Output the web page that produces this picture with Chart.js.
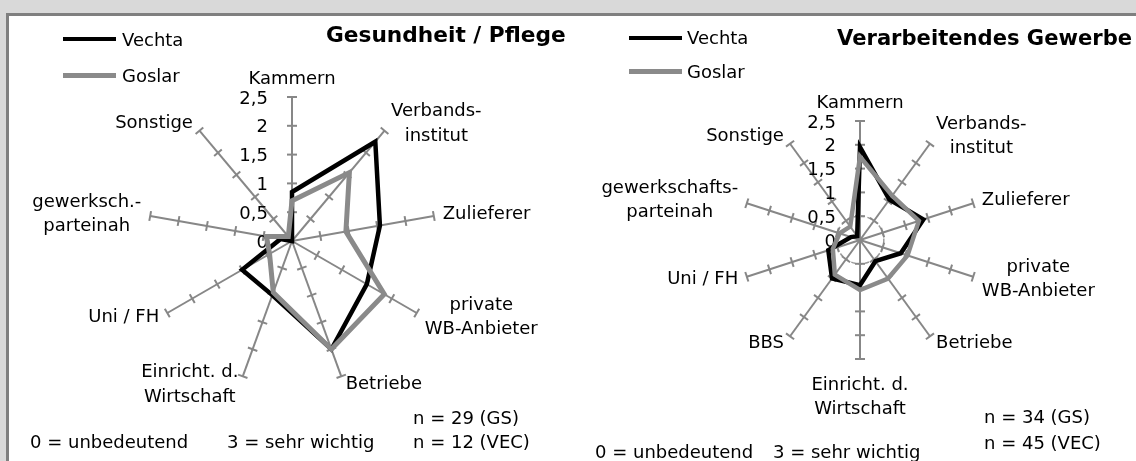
<!DOCTYPE html>
<html><head><meta charset="utf-8">
<script src="https://cdn.jsdelivr.net/npm/chart.js@4.4.1/dist/chart.umd.min.js"></script>
<style>
body{margin:0;width:1136px;height:461px;overflow:hidden;background:#d9d9d9;font-family:"DejaVu Sans",Verdana,sans-serif;position:relative;}
#frame{position:absolute;left:6px;top:13px;width:1140px;height:460px;border:3px solid #7f7f7f;background:#fff;}
canvas{position:absolute;top:0}
.t{position:absolute;font-size:18px;line-height:20px;white-space:nowrap;color:#000}
.title{position:absolute;font-size:21.7px;line-height:24px;font-weight:bold;white-space:nowrap;color:#000}
.sw{position:absolute;width:53px}
</style></head><body>
<div id="frame"></div>
<canvas id="c1" width="568" height="461" style="left:0"></canvas>
<canvas id="c2" width="568" height="461" style="left:568px"></canvas>

<div class="sw" style="left:63px;top:37px;height:4px;background:#000"></div>
<div class="t" style="left:122px;top:30px">Vechta</div>
<div class="sw" style="left:63px;top:73px;height:5px;background:#8a8a8a"></div>
<div class="t" style="left:122px;top:66px">Goslar</div>
<div class="title" style="left:326px;top:23px">Gesundheit / Pflege</div>
<div class="t" style="left:30px;top:432px">0 = unbedeutend</div>
<div class="t" style="left:227px;top:432px">3 = sehr wichtig</div>
<div class="t" style="left:413px;top:408px">n = 29 (GS)</div>
<div class="t" style="left:413px;top:432px">n = 12 (VEC)</div>

<div class="sw" style="left:629px;top:36px;height:4px;background:#000"></div>
<div class="t" style="left:687px;top:28px">Vechta</div>
<div class="sw" style="left:629px;top:69px;height:5px;background:#8a8a8a"></div>
<div class="t" style="left:687px;top:62px">Goslar</div>
<div class="title" style="left:837px;top:26px;font-size:21.1px">Verarbeitendes Gewerbe</div>
<div class="t" style="left:595px;top:442px">0 = unbedeutend</div>
<div class="t" style="left:773px;top:442px">3 = sehr wichtig</div>
<div class="t" style="left:984px;top:407px">n = 34 (GS)</div>
<div class="t" style="left:984px;top:433px">n = 45 (VEC)</div>

<script>
// ---- data ----
const leftLabels = [['Kammern'], ['Verbands-','institut'], ['Zulieferer'], ['private','WB-Anbieter'], ['Betriebe'], ['Einricht. d.','Wirtschaft'], ['Uni / FH'], ['gewerksch.-','parteinah'], ['Sonstige']];
const leftVechta = [0.85, 2.25, 1.55, 1.5, 2.0, 1.0, 1.0, 0.2, 0.0];
const leftGoslar = [0.7, 1.55, 0.95, 1.85, 2.0, 0.95, 0.45, 0.45, 0.1];

const rightLabels = [['Kammern'], ['Verbands-','institut'], ['Zulieferer'], ['private','WB-Anbieter'], ['Betriebe'], ['Einricht. d.','Wirtschaft'], ['BBS'], ['Uni / FH'], ['gewerkschafts-','parteinah'], ['Sonstige']];
const rightVechta = [1.95, 1.05, 1.4, 0.9, 0.55, 0.95, 1.0, 0.7, 0.2, 0.1];
const rightGoslar = [1.75, 1.15, 1.3, 1.05, 1.0, 1.05, 0.9, 0.6, 0.45, 0.35];

const tickValues = [0, 0.5, 1, 1.5, 2, 2.5];
const tickLabels = ['0', '0,5', '1', '1,5', '2', '2,5'];
const seriesNames = ['Vechta', 'Goslar'];

// ---- drawing ----
const FONT = '18px "DejaVu Sans", Verdana, sans-serif';
const SPOKE = '#878787';

function deco(labels){
  return {
    id: 'deco',
    beforeDatasetsDraw(chart){
      const s = chart.scales.r, ctx = chart.ctx;
      ctx.save();
      ctx.strokeStyle = SPOKE; ctx.lineWidth = 2;
      for (let i = 0; i < labels.length; i++){
        const a = s.getIndexAngle(i) - Math.PI/2;
        const px = -Math.sin(a), py = Math.cos(a);
        tickValues.forEach(v => {
          if (v === 0) return;
          const p = s.getPointPositionForValue(i, v);
          ctx.beginPath();
          ctx.moveTo(p.x - 5*px, p.y - 5*py);
          ctx.lineTo(p.x + 5*px, p.y + 5*py);
          ctx.stroke();
        });
      }
      ctx.fillStyle = '#000'; ctx.font = FONT;
      ctx.textAlign = 'right'; ctx.textBaseline = 'middle';
      tickValues.forEach((v, k) => {
        const p = s.getPointPositionForValue(0, v);
        ctx.fillText(tickLabels[k], s.xCenter - 24, p.y + 2);
      });
      ctx.restore();
    },
    afterDraw(chart){
      const s = chart.scales.r, ctx = chart.ctx;
      const max = tickValues[tickValues.length-1];
      const lh = 24.5;
      ctx.save();
      ctx.fillStyle = '#000'; ctx.font = FONT;
      ctx.textAlign = 'center'; ctx.textBaseline = 'middle';
      labels.forEach((lines, i) => {
        const th = s.getIndexAngle(i);
        const sn = Math.sin(th), cs = Math.cos(th);
        const e = s.getPointPositionForValue(i, max);
        const w = Math.max(...lines.map(l => ctx.measureText(l).width));
        const n = lines.length;
        let cx, cy;
        if (Math.abs(sn) < 0.05){
          cx = e.x;
          if (cs > 0) cy = e.y - 18 - (n-1)*lh; // first line centre
          else cy = e.y + 26;
        } else {
          const gap = 2 + 7*Math.abs(sn);
          cx = sn > 0 ? e.x + gap + w/2 : e.x - gap - w/2;
          cy = e.y - cs*9 - (n-1)*lh/2;
        }
        lines.forEach((l, k) => ctx.fillText(l, cx, cy + k*lh));
      });
      ctx.restore();
    }
  };
}

function makeChart(id, labels, vechta, goslar, pad, circle, widths){
  new Chart(document.getElementById(id), {
    type: 'radar',
    data: {
      labels: labels,
      datasets: [
        {label: seriesNames[0], data: vechta, borderColor: '#000', borderWidth: widths[0], fill: false,
         pointRadius: 0, pointHoverRadius: 0, borderJoinStyle: 'miter', order: 2},
        {label: seriesNames[1], data: goslar, borderColor: '#8a8a8a', borderWidth: widths[1], fill: false,
         pointRadius: 0, pointHoverRadius: 0, borderJoinStyle: 'miter', order: 1}
      ]
    },
    options: {
      responsive: false, animation: false, events: [],
      layout: {padding: pad},
      plugins: {legend: {display: false}, tooltip: {enabled: false}, title: {display: false}},
      scales: {
        r: {
          min: 0, max: 2.5, startAngle: 0,
          ticks: {display: false, stepSize: 0.5},
          pointLabels: {display: false},
          angleLines: {display: true, color: SPOKE, lineWidth: 2},
          grid: circle ? {display: true, circular: true, lineWidth: 1.5,
                          color: c => (c.tick && c.tick.value === 0.5) ? '#9a9a9a' : 'rgba(0,0,0,0)'}
                       : {display: false},
          border: {dash: [4, 3]}
        }
      }
    },
    plugins: [deco(labels)]
  });
}

makeChart('c1', leftLabels, leftVechta, leftGoslar, {left: 148, top: 97, right: 132, bottom: 76}, false, [4.5, 5]);
makeChart('c2', rightLabels, rightVechta, rightGoslar, {left: 173, top: 121, right: 157, bottom: 102}, true, [4.5, 4.5]);
</script>
</body></html>
